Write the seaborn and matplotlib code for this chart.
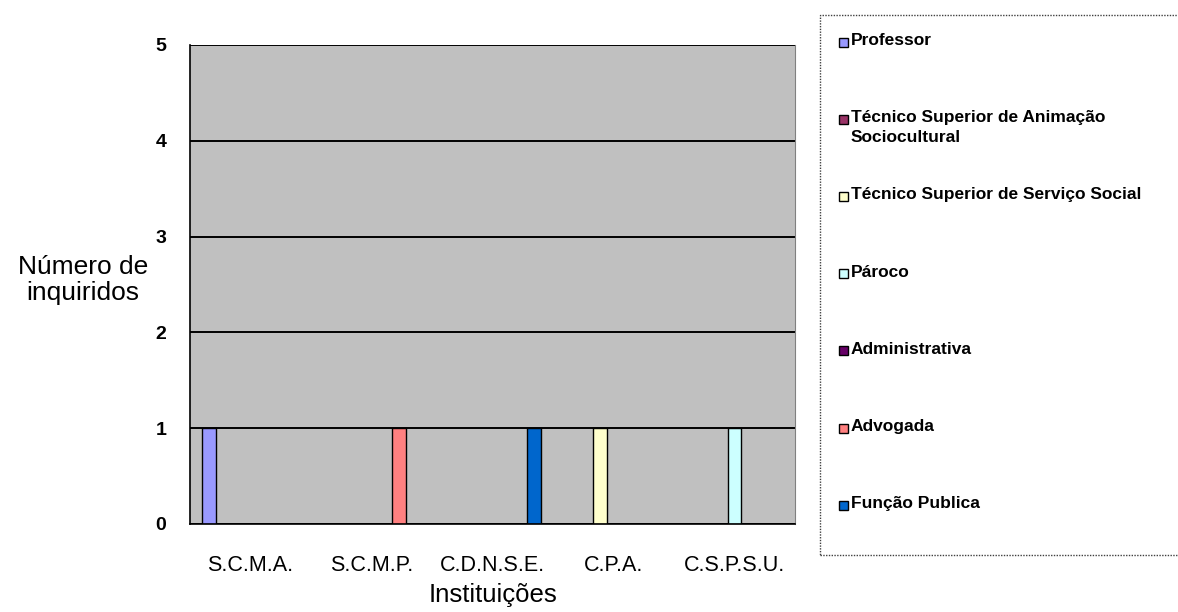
import numpy as np
import pandas as pd
import matplotlib
matplotlib.use("Agg")
import matplotlib.pyplot as plt
import seaborn as sns
from matplotlib.patches import Rectangle

# data
institutions = ["S.C.M.A.", "S.C.M.P.", "C.D.N.S.E.", "C.P.A.", "C.S.P.S.U."]
professions = [
    "Professor",
    "Técnico Superior de Animação\nSociocultural",
    "Técnico Superior de Serviço Social",
    "Pároco",
    "Administrativa",
    "Advogada",
    "Função Publica",
]
colors = ["#9999FF", "#993366", "#FFFFCC", "#CCFFFF", "#660066", "#FF8080", "#0066CC"]
counts = [
    [1, 0, 0, 0, 0],  # Professor
    [0, 0, 0, 0, 0],  # Técnico Superior de Animação Sociocultural
    [0, 0, 0, 1, 0],  # Técnico Superior de Serviço Social
    [0, 0, 0, 0, 1],  # Pároco
    [0, 0, 0, 0, 0],  # Administrativa
    [0, 1, 0, 0, 0],  # Advogada
    [0, 0, 1, 0, 0],  # Função Publica
]

rows = []
for prof, vals in zip(professions, counts):
    for inst, v in zip(institutions, vals):
        rows.append({"Instituição": inst, "Profissão": prof, "Número": v})
df = pd.DataFrame(rows)

sns.set_style("white")
plt.rcParams["font.family"] = ["Liberation Sans", "DejaVu Sans"]
plt.rcParams.update({"text.color": "black", "axes.labelcolor": "black",
                     "xtick.color": "black", "ytick.color": "black"})

W, H = 1178, 612
fig = plt.figure(figsize=(W / 100, H / 100), dpi=100)
ax = fig.add_axes([190 / W, 1 - 524 / H, 605 / W, 479 / H])
ax.set_facecolor("#C0C0C0")

sns.barplot(data=df, x="Instituição", y="Número", hue="Profissão",
            hue_order=professions, order=institutions,
            palette=dict(zip(professions, colors)), saturation=1,
            errorbar=None, edgecolor="black", linewidth=1.0,
            legend=False, ax=ax)

ax.set_ylim(0, 5)
ax.set_xlim(-0.5, len(institutions) - 0.5)
ax.set_yticks(range(0, 6))
ax.yaxis.grid(True, color="black", linewidth=1.4)
ax.set_axisbelow(True)

# ticks between categories on x, labels centred
ax.set_xticks(np.arange(-0.5, len(institutions)), minor=True)
ax.tick_params(axis="x", which="minor", length=5, width=1, color="black", direction="out")
ax.tick_params(axis="x", which="major", length=0, pad=22, labelsize=15.5)
ax.tick_params(axis="y", length=5, width=1, color="black", direction="out", pad=12)
for lab in ax.get_yticklabels():
    lab.set_fontweight("bold")
    lab.set_fontsize(14)

for side in ["left", "bottom"]:
    ax.spines[side].set_color("black")
    ax.spines[side].set_linewidth(1.2)
ax.spines["right"].set_color("#808080")
ax.spines["top"].set_visible(False)

ax.set_xlabel("Instituições", fontsize=18.5, va="top")
ax.xaxis.set_label_coords(0.501, -0.124)
ax.set_ylabel("Número de\ninquiridos", fontsize=19, rotation=0, ha="center", va="center",
              linespacing=1.1)
ax.yaxis.set_label_coords(-0.177, 0.509)

# legend box on the right
fig.patches.append(Rectangle((820 / W, 1 - 555 / H), 362 / W, 540 / H,
                             transform=fig.transFigure, fill=False,
                             edgecolor="#404040", linestyle=(0, (1, 1)), linewidth=1))
y0, step = 42, 77.2
for i, (name, col) in enumerate(zip(professions, colors)):
    yc = y0 + i * step
    fig.patches.append(Rectangle((839 / W, 1 - (yc + 4.5) / H), 9 / W, 9 / H,
                                 transform=fig.transFigure, facecolor=col,
                                 edgecolor="black", linewidth=1))
    fig.text(851 / W, 1 - (yc - 9) / H, name, fontsize=12.5, fontweight="bold",
             ha="left", va="top", linespacing=1.4)

fig.savefig("out.png", dpi=100)
